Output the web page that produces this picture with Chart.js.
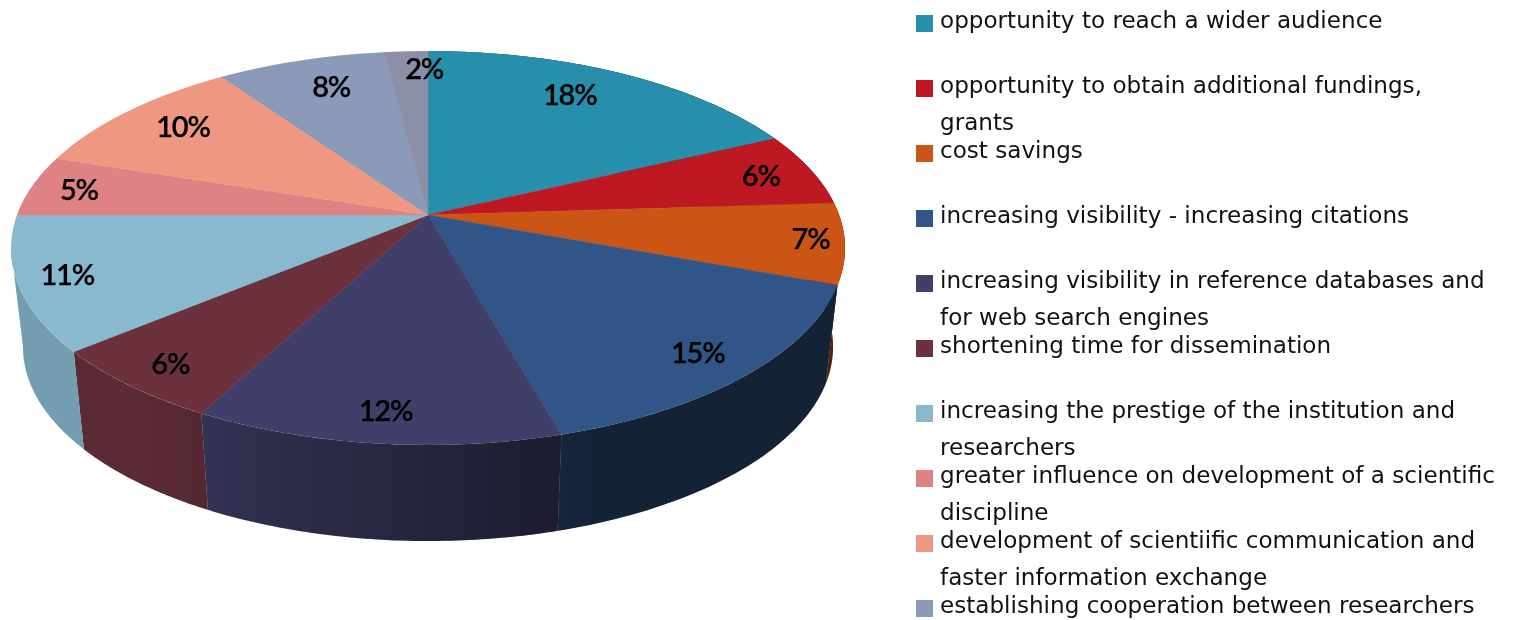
<!DOCTYPE html>
<html>
<head>
<meta charset="utf-8">
<style>
  html, body { margin: 0; padding: 0; background: #fff; overflow: hidden; }
  #box { width: 1516px; height: 620px; position: relative; }
</style>
<script src="https://cdn.jsdelivr.net/npm/chart.js@4/dist/chart.umd.js"></script>
</head>
<body>
<div id="box"><canvas id="pie3d" width="1516" height="620"></canvas></div>
<script>
// slice values (labels show them rounded)
const categories = [
  "opportunity to reach a wider audience",
  "opportunity to obtain additional fundings, grants",
  "cost savings",
  "increasing visibility - increasing citations",
  "increasing visibility in reference databases and for web search engines",
  "shortening time for dissemination",
  "increasing the prestige of the institution and researchers",
  "greater influence on development of a scientific discipline",
  "development of scientiific communication and faster information exchange",
  "establishing cooperation between researchers",
  ""
];
const values = [18, 6, 6.6, 15, 12.2, 6.2, 11, 5, 10.3, 7.7, 2];
const colors = ["#278fab", "#be1823", "#cb5515", "#315587", "#3f3f69", "#6b323e",
                "#88b9ce", "#df8283", "#ee9882", "#8a9ab8", "#8b8fa8"];

// legend lines as they wrap in the picture
const legendLines = [
  ["opportunity to reach a wider audience"],
  ["opportunity to obtain additional fundings,", "grants"],
  ["cost savings"],
  ["increasing visibility - increasing citations"],
  ["increasing visibility in reference databases and", "for web search engines"],
  ["shortening time for dissemination"],
  ["increasing the prestige of the institution and", "researchers"],
  ["greater influence on development of a scientific", "discipline"],
  ["development of scientiific communication and", "faster information exchange"],
  ["establishing cooperation between researchers"]
];

// how far along its ray each % label sits (0 centre, 1 rim), then a small px nudge
const labelFrac = [0.72, 0.80, 0.92, 0.86, 0.85, 0.82, 0.88, 0.88, 0.76, 0.76, 0.90];
const labelNudge = [[3, -17], [27, -2], [-1, -1], [-4, 1], [2, 2], [-13, 10], [0, 0], [-1, 1], [-17, -8], [0, -10], [16, 2]];

// geometry of the tilted pie
const apex = { x: 428, y: 215 };
const squash = 0.467;
const topRim = { x: 428, y: 248, rx: 417, ry: 197 };
const botRim = { x: 428, y: 347, rx: 405, ry: 194 };

function rimParam(angle) {
  // where the ray from the apex hits the top ellipse
  let dx = Math.cos(angle), dy = Math.sin(angle) * squash;
  let ax = dx / topRim.rx, ay = dy / topRim.ry, by = (apex.y - topRim.y) / topRim.ry;
  let A = ax * ax + ay * ay, B = 2 * ay * by, C = by * by - 1;
  let s = (-B + Math.sqrt(B * B - 4 * A * C)) / (2 * A);
  let t = Math.atan2(ay * s + by, ax * s);
  if (t < 0) t += Math.PI * 2;
  return { s, x: apex.x + dx * s, y: apex.y + dy * s, t };
}

function darken(ctx, path) {
  let g = ctx.createLinearGradient(140, 0, 600, 0);
  g.addColorStop(0, "rgba(0,0,0,0.15)");
  g.addColorStop(0.9, "rgba(0,0,0,0.55)");
  g.addColorStop(1, "rgba(0,0,0,0.6)");
  ctx.fillStyle = g;
  ctx.fill(path);
}

const pie3d = {
  id: "pie3d",
  beforeDatasetDraw(chart, args) {
    let ctx = chart.ctx;
    // side walls first, from each arc's angles
    args.meta.data.forEach((arc, i) => {
      let t0 = rimParam(arc.startAngle).t, t1 = rimParam(arc.endAngle).t;
      // slices on the back left have no visible wall
      if (t0 >= Math.PI && t0 < Math.PI * 1.5) return;
      if (t1 < t0) t1 += Math.PI * 2;
      if (t0 > Math.PI / 2 && t0 < Math.PI && t1 > Math.PI) t1 = Math.PI;
      let p = new Path2D();
      for (let k = 0; k <= 60; k++) {
        let t = t0 + (t1 - t0) * k / 60;
        p.lineTo(topRim.x + topRim.rx * Math.cos(t), topRim.y + topRim.ry * Math.sin(t));
      }
      for (let k = 60; k >= 0; k--) {
        let t = t0 + (t1 - t0) * k / 60;
        p.lineTo(botRim.x + botRim.rx * Math.cos(t), botRim.y + botRim.ry * Math.sin(t));
      }
      p.closePath();
      ctx.fillStyle = colors[i];
      ctx.fill(p);
      darken(ctx, p);
    });
    // top face: oversize pie squashed about the apex, cut by the rim ellipse
    ctx.save();
    ctx.beginPath();
    ctx.ellipse(topRim.x, topRim.y, topRim.rx, topRim.ry, 0, 0, Math.PI * 2);
    ctx.clip();
    ctx.translate(apex.x, apex.y);
    ctx.scale(1, squash);
    ctx.translate(-apex.x, -apex.y);
  },
  afterDatasetDraw(chart, args) {
    let ctx = chart.ctx;
    ctx.restore();
    // % labels
    ctx.save();
    ctx.fillStyle = "#000";
    ctx.strokeStyle = "#000";
    ctx.lineWidth = 0.25;
    ctx.font = "600 29px Lato";
    ctx.letterSpacing = "-1.2px";
    ctx.textAlign = "center";
    ctx.textBaseline = "middle";
    args.meta.data.forEach((arc, i) => {
      let r = rimParam((arc.startAngle + arc.endAngle) / 2);
      let x = apex.x + (r.x - apex.x) * labelFrac[i] + labelNudge[i][0];
      let y = apex.y + (r.y - apex.y) * labelFrac[i] + labelNudge[i][1];
      let txt = Math.round(values[i]) + "%";
      ctx.fillText(txt, x, y);
      ctx.strokeText(txt, x, y);
    });
    ctx.restore();
  },
  afterDraw(chart) {
    // legend, fixed pitch per entry like the picture, last entry runs off the page
    let ctx = chart.ctx;
    ctx.save();
    ctx.font = "23.1px 'DejaVu Sans'";
    ctx.textBaseline = "middle";
    legendLines.forEach((lines, i) => {
      let y = 21 + i * 65;
      ctx.fillStyle = colors[i];
      ctx.fillRect(916, y - 6, 17, 17);
      ctx.fillStyle = "#111";
      lines.forEach((line, j) => ctx.fillText(line, 940, y + 1 + j * 36.5));
    });
    ctx.restore();
  }
};

new Chart(document.getElementById("pie3d"), {
  type: "pie",
  data: {
    labels: categories,
    datasets: [{ data: values, backgroundColor: colors, borderColor: colors, borderWidth: 0.6, clip: false }]
  },
  options: {
    responsive: false,
    animation: false,
    radius: 1000,
    layout: { padding: { left: 0, top: 0, right: 660, bottom: 190 } },
    plugins: { legend: { display: false }, tooltip: { enabled: false } }
  },
  plugins: [pie3d]
});
</script>
</body>
</html>
